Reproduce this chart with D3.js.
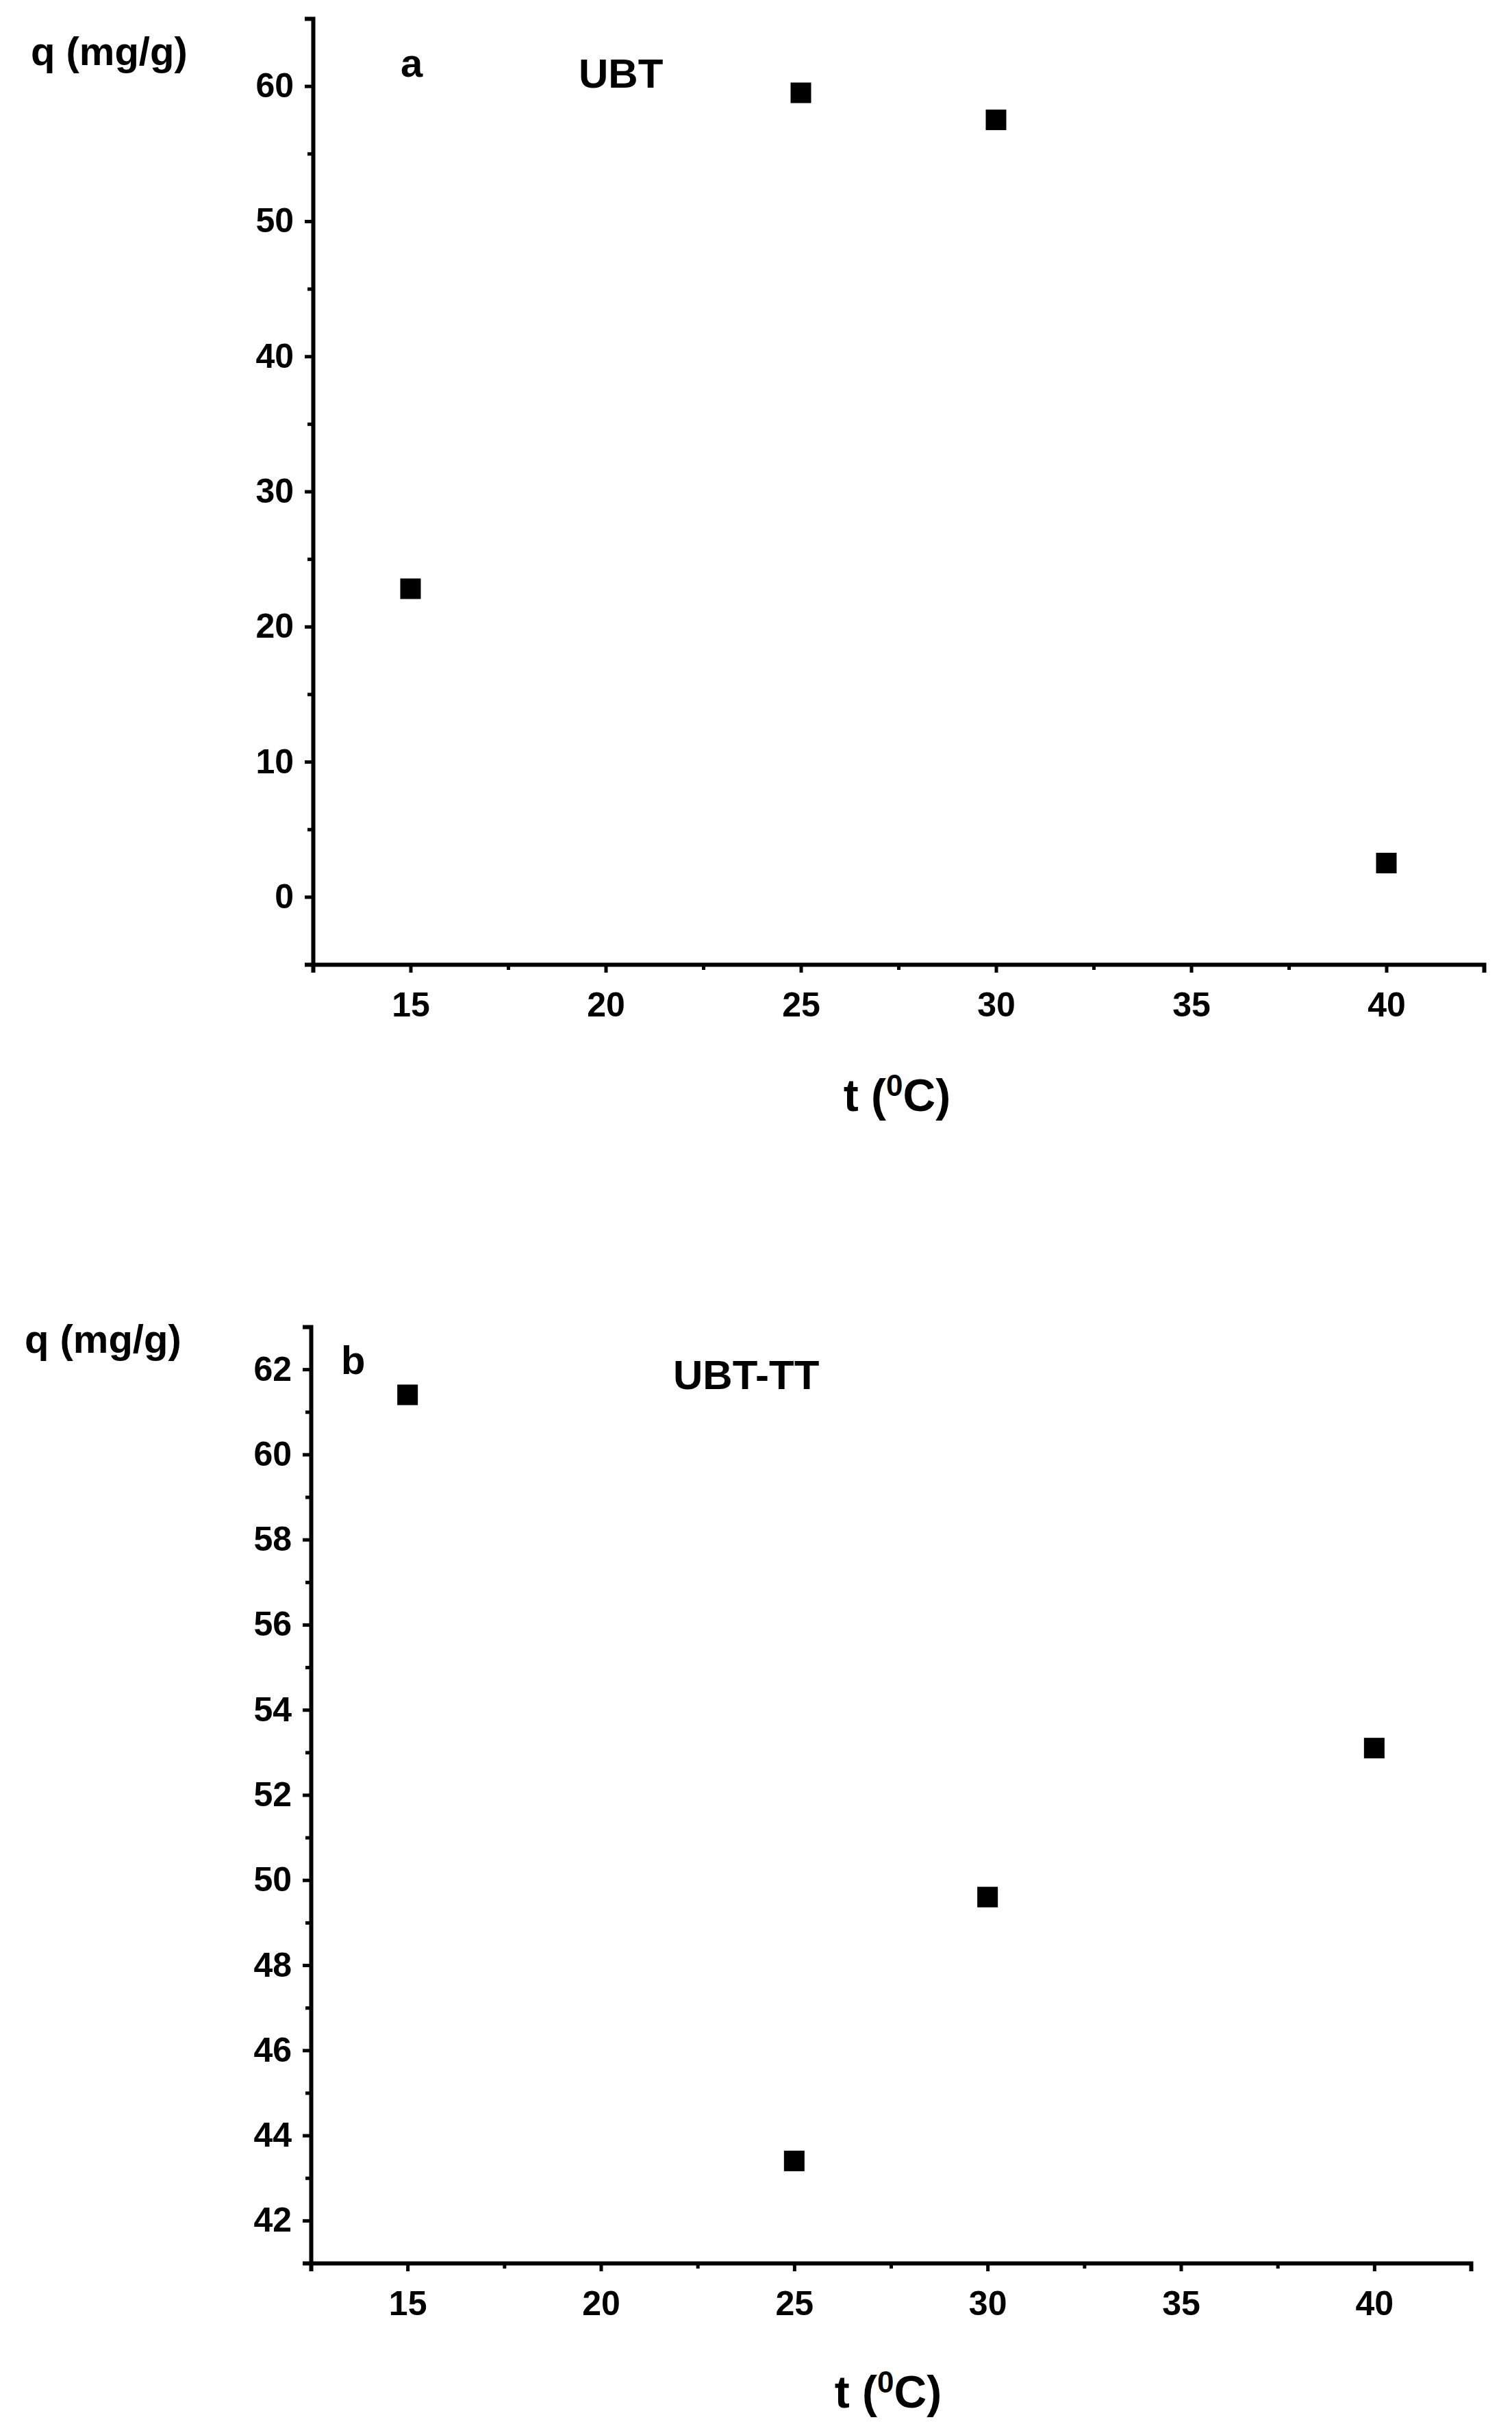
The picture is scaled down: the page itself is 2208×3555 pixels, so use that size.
<!DOCTYPE html><html><head><meta charset="utf-8">
<script src="https://cdn.jsdelivr.net/npm/d3@7"></script>
<style>body{margin:0;background:#fff}text{font-family:"Liberation Sans Narrow","Arial Narrow","Liberation Sans",Arial,sans-serif;font-weight:bold;fill:#000}</style>
</head><body><svg id="c" width="2208" height="3555"></svg><script>
const temps=[15,25,30,40];
const qUBT=[22.8,59.5,57.5,2.5];
const qUBTTT=[61.4,43.4,49.6,53.1];
const xTicks=[15,20,25,30,35,40];
const yTicksA=[0,10,20,30,40,50,60];
const yTicksB=[42,44,46,48,50,52,54,56,58,60,62];
const svg=d3.select("#c");
function panel(o){
  const x=d3.scaleLinear().domain([12.5,42.5]).range([o.l,o.r]);
  const y=d3.scaleLinear().domain(o.yd).range([o.b,o.t]);
  const g=svg.append("g");
  const xa=g.append("g").attr("transform",`translate(0,${o.b})`).call(d3.axisBottom(x).tickValues(d3.range(12.5,42.6,2.5)).tickSize(12).tickFormat(d=>xTicks.includes(d)?d:""));
  xa.selectAll(".tick").filter(d=>!xTicks.includes(d)).select("line").attr("y2",8);
  const ya=g.append("g").attr("transform",`translate(${o.l},0)`).call(d3.axisLeft(y).tickValues(d3.range(o.yd[0],o.yd[1]+0.001,o.minor)).tickSize(12).tickFormat(d=>o.yt.includes(d)?d:""));
  ya.selectAll(".tick").filter(d=>!o.yt.includes(d)).select("line").attr("x2",-8);
  [xa,ya].forEach(a=>{a.select(".domain").attr("stroke-width",6);a.selectAll("line").attr("stroke-width",5);a.selectAll("text").style("font-size","50px").attr("fill","#000");});
  xa.selectAll("text").attr("dy","0.71em").attr("y",40);
  ya.selectAll("text").attr("x",-28);
  g.selectAll("rect.m").data(temps.map((t,i)=>[t,o.v[i]])).join("rect").attr("class","m")
   .attr("x",d=>x(d[0])-15).attr("y",d=>y(d[1])-15).attr("width",30).attr("height",30).attr("fill","#000");
  g.append("text").attr("x",o.qx).attr("y",o.qy).style("font-size","58px").text("q (mg/g)");
  g.append("text").attr("x",o.lx).attr("y",o.ly).style("font-size","58px").text(o.lab);
  g.append("text").attr("x",o.nx).attr("y",o.ny).style("font-size","60px").text(o.name);
  const tt=g.append("text").attr("x",o.tx).attr("y",o.ty).attr("text-anchor","middle").style("font-size","66px");
  tt.append("tspan").text("t (");tt.append("tspan").attr("dy",-22).style("font-size","44px").text("0");
  tt.append("tspan").attr("dy",22).text("C)");
}
panel({l:457,r:2167,t:27,b:1408,yd:[-5,65],minor:5,yt:yTicksA,v:qUBT,qx:45,qy:95,lx:585,ly:112,lab:"a",nx:845,ny:128,name:"UBT",tx:1310,ty:1622});
panel({l:454,r:2148,t:1937,b:3304,yd:[41,63],minor:1,yt:yTicksB,v:qUBTTT,qx:36,qy:1975,lx:498,ly:2006,lab:"b",nx:983,ny:2028,name:"UBT-TT",tx:1297,ty:3515});
</script></body></html>
